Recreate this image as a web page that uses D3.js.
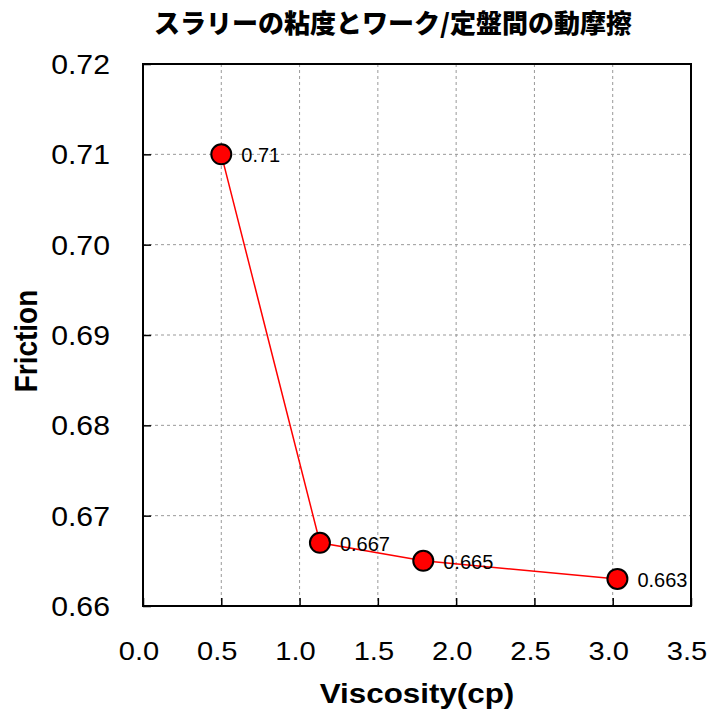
<!DOCTYPE html>
<html><head><meta charset="utf-8">
<script src="https://cdn.jsdelivr.net/npm/d3@7"></script>
<style>body{margin:0;background:#fff}</style>
</head><body>
<svg id="c" width="713" height="712"></svg>
<script>
const viscosity = [0.5, 1.13, 1.79, 3.03];
const friction = [0.71, 0.667, 0.665, 0.663];
const pointLabels = ["0.71", "0.667", "0.665", "0.663"];
const xTicks = [0, 0.5, 1.0, 1.5, 2.0, 2.5, 3.0, 3.5];
const yTicks = [0.66, 0.67, 0.68, 0.69, 0.70, 0.71, 0.72];
const title = "スラリーの粘度とワーク/定盤間の動摩擦";
const xTitle = "Viscosity(cp)";
const yTitle = "Friction";

const svg = d3.select("#c");
const L = 143, R = 691, T = 64, B = 606;
const x = d3.scaleLinear().domain([0, 3.5]).range([L, R]);
const y = d3.scaleLinear().domain([0.66, 0.72]).range([B, T]);
const font = "Liberation Sans, Arial, sans-serif";
const SX = 1.12;

// grid
svg.append("g").selectAll("line").data(xTicks.slice(1, -1)).join("line")
  .attr("x1", d => x(d)).attr("x2", d => x(d)).attr("y1", T).attr("y2", B)
  .attr("stroke", "#999").attr("stroke-dasharray", "3,3").attr("stroke-width", 1);
svg.append("g").selectAll("line").data(yTicks.slice(1, -1)).join("line")
  .attr("y1", d => y(d)).attr("y2", d => y(d)).attr("x1", L).attr("x2", R)
  .attr("stroke", "#999").attr("stroke-dasharray", "3,3").attr("stroke-width", 1);

// axes (ticks inward)
const xAxis = svg.append("g").attr("transform", `translate(0,${B})`)
  .call(d3.axisBottom(x).tickValues(xTicks).tickSize(-8).tickFormat(""));
const yAxis = svg.append("g").attr("transform", `translate(${L},0)`)
  .call(d3.axisLeft(y).tickValues(yTicks).tickSize(-8).tickFormat(""));
[xAxis, yAxis].forEach(a => {
  a.select(".domain").remove();
  a.selectAll(".tick line").attr("stroke", "#000").attr("stroke-width", 1.5);
  a.selectAll("text").remove();
});

// tick labels
const fx = d3.format(".1f"), fy = d3.format(".2f");
svg.append("g").selectAll("text").data(xTicks).join("text")
  .attr("transform", d => `translate(${x(d) - 4},660) scale(${SX},1)`)
  .attr("text-anchor", "middle").attr("font-family", font).attr("font-size", 26)
  .attr("fill", "#000").text(d => fx(d));
svg.append("g").selectAll("text").data(yTicks).join("text")
  .attr("transform", d => `translate(110,${y(d) + 10}) scale(${SX},1)`)
  .attr("text-anchor", "end").attr("font-family", font).attr("font-size", 27)
  .attr("fill", "#000").text(d => fy(d));

// frame
svg.append("rect").attr("x", L).attr("y", T).attr("width", R - L).attr("height", B - T)
  .attr("fill", "none").attr("stroke", "#000").attr("stroke-width", 2);

// line
const pts = viscosity.map((v, i) => [v, friction[i]]);
svg.append("path").datum(pts)
  .attr("d", d3.line().x(d => x(d[0])).y(d => y(d[1])))
  .attr("fill", "none").attr("stroke", "#f00").attr("stroke-width", 1.5);

svg.append("g").selectAll("circle").data(pts).join("circle")
  .attr("cx", d => x(d[0])).attr("cy", d => y(d[1])).attr("r", 10)
  .attr("fill", "#f00").attr("stroke", "#000").attr("stroke-width", 2);

svg.append("g").selectAll("text").data(pts).join("text")
  .attr("x", d => x(d[0]) + 20).attr("y", d => y(d[1]) + 8)
  .attr("font-family", font).attr("font-size", 20).attr("fill", "#000")
  .text((d, i) => pointLabels[i]);

// titles
svg.append("text").attr("x", 393).attr("y", 33).attr("text-anchor", "middle")
  .attr("font-family", "Noto Sans CJK JP, sans-serif").attr("font-weight", 900)
  .attr("font-size", 26).attr("fill", "#000").text(title);
svg.append("text").attr("transform", `translate(417,703) scale(${SX},1)`).attr("text-anchor", "middle")
  .attr("font-family", font).attr("font-weight", "bold")
  .attr("font-size", 28).attr("fill", "#000").text(xTitle);
svg.append("text").attr("transform", "translate(37,341) scale(1.1,1) rotate(-90)").attr("text-anchor", "middle")
  .attr("font-family", font).attr("font-weight", "bold")
  .attr("font-size", 28).attr("fill", "#000").text(yTitle);
</script>
</body></html>
